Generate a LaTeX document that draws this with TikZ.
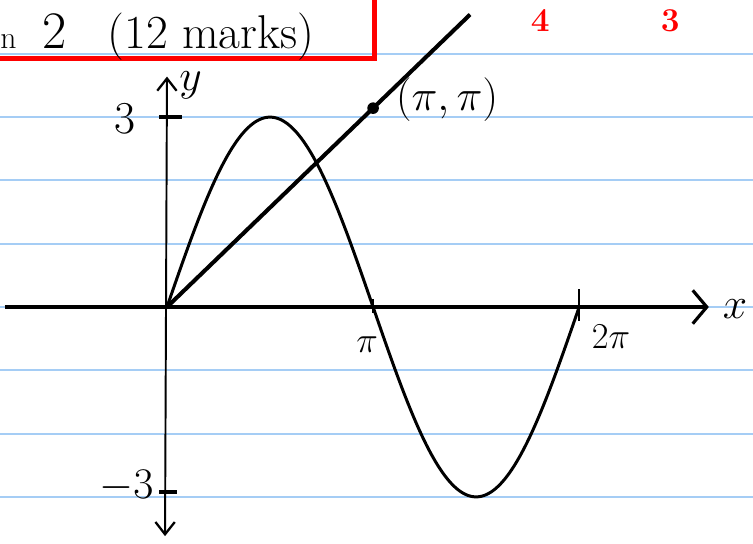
\documentclass[tikz,border=0pt]{standalone}
\usepackage{xcolor}
\usetikzlibrary{arrows.meta}
\usetikzlibrary{math}
\definecolor{ruleblue}{RGB}{165,205,245}
\definecolor{markred}{RGB}{255,0,0}
\tikzset{xbarb/.tip={Straight Barb[length=8pt,width=19pt,line width=1.8pt]}}
\tikzset{ybarb/.tip={Straight Barb[length=7pt,width=11pt,line width=1.3pt]}}

\begin{document}
\begin{tikzpicture}[x=1.312cm, y=1.266cm,
  hand/.style={font=\fontsize{26}{30}\selectfont}]
\tikzmath{
\xmin=-2.5457; \xmax=8.933;
\ymin=-3.7283; \ymax=4.850;
\A=3;
\xe=4.62;
}
\useasboundingbox (\xmin,\ymin) rectangle (\xmax,\ymax);
\clip (\xmin,\ymin) rectangle (\xmax,\ymax);

% ruled paper
\foreach \k in {-3,...,4}
  \draw[ruleblue, line width=1.1] (\xmin,\k) -- (\xmax,\k);

% heading
\coordinate (bl) at (\xmin-1,3.92);
\coordinate (br) at (3.17,3.92);
\coordinate (tr) at (3.17,\ymax+1);
\draw[markred, line width=2.8] (bl) -- (br) -- (tr);
\node[hand, anchor=base west, inner sep=0, font=\fontsize{18}{20}\selectfont] (qtail) at (\xmin,4.09) {n};
\node[hand, anchor=base, inner sep=0, font=\fontsize{30}{34}\selectfont] (qnum) at (-1.72,4.09) {2};
\node[hand, anchor=base, inner sep=0, font=\fontsize{27}{30}\selectfont] (qmarks) at (0.67,4.09) {(12 marks)};
\node[hand, markred, anchor=base, inner sep=0, font=\fontsize{19}{21}\selectfont\bfseries] (mfour) at (5.69,4.36) {4};
\node[hand, markred, anchor=base, inner sep=0, font=\fontsize{19}{21}\selectfont\bfseries] (mthree) at (7.67,4.36) {3};

% axes
\coordinate (O) at (0,0);
\coordinate (xs) at (-2.47,0);
\coordinate (xt) at (8.26,0);
\coordinate (yb) at (-0.03,-3.62);
\coordinate (yt) at (0,3.64);
\draw[line width=2.2, -xbarb] (xs) -- (xt);
\draw[line width=1.1, ybarb-ybarb] (yb) -- (yt);
\node[hand] (xlab) at (8.66,-0.04) {$x$};
\node[hand] (ylab) at (0.36,3.5) {$y$};

% ticks
\draw[line width=2] (-0.12,3) -- (0.23,3);
\draw[line width=2] (-0.12,-2.92) -- (0.16,-2.92);
\draw[line width=1.3] (pi,0.12) -- (pi,-0.1);
\draw[line width=1.3] (2*pi,0.28) -- (2*pi,-0.22);
\node[hand] (ythree) at (-0.64,2.98) {3};
\node[hand] (ymthree) at (-0.62,-2.83) {$-3$};
\node[hand, font=\fontsize{22}{26}\selectfont] (xpi) at (3.05,-0.6) {$\pi$};
\node[hand, font=\fontsize{22}{26}\selectfont] (xtwopi) at (6.77,-0.47) {$2\pi$};

% y = 3 sin x
\draw[line width=1.7, line join=round] plot[domain=0:2*pi, samples=90, smooth] (\x,{\A*sin(\x r)});

% y = x
\coordinate (le) at (\xe,\xe);
\coordinate (pp) at (pi,pi);
\draw[line width=2.3] (O) -- (le);
\fill (pp) circle (3.3pt);
\node[hand, font=\fontsize{24}{28}\selectfont] (pplab) at (4.27,3.28) {$(\pi,\pi)$};
\end{tikzpicture}
\end{document}
